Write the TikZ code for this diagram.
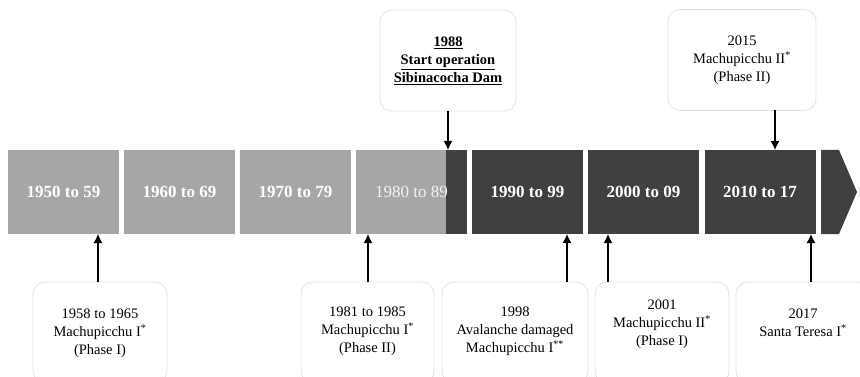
\documentclass[tikz,border=0pt]{standalone}
\usepackage{fontspec}
\setmainfont{Liberation Serif}
\usetikzlibrary{arrows.meta}
\definecolor{lightbar}{HTML}{A6A6A6}
\definecolor{darkbar}{HTML}{404040}
\definecolor{callborder}{HTML}{E2E2E2}
\definecolor{paletext}{HTML}{F2F2F2}
\begin{document}
\begin{tikzpicture}[x=1pt,y=-1pt,
  bar/.style={minimum width=111pt, minimum height=84pt, inner sep=0pt, outer sep=0pt,
    text=white, font=\fontsize{17}{19}\selectfont\bfseries},
  lightbar/.style={bar, fill=lightbar},
  darkbar/.style={bar, fill=darkbar},
  callout/.style={draw=callborder, fill=white, rounded corners=12pt, line width=0.8pt,
    minimum height=101pt, inner sep=0pt, outer sep=0pt},
  calltext/.style={align=center, font=\fontsize{14.5}{18}\selectfont, inner sep=0pt},
  conn/.style={-{Latex[length=9pt,width=9pt]}, line width=1.2pt, black}]
\path[use as bounding box] (0,0) rectangle (860,377);
\clip (0,0) rectangle (860,377);

% timeline bars
\node[lightbar] (b1) at (63.5,192) {1950 to 59};
\node[lightbar] (b2) at (179.5,192) {1960 to 69};
\node[lightbar] (b3) at (295.5,192) {1970 to 79};
\node[lightbar] (b4) at (411.5,192) {};
\fill[darkbar] (446,150) rectangle (b4.south east);
\node[bar, text=paletext, font=\fontsize{17}{19}\selectfont] (b4t) at (b4.center) {1980 to 89};
\node[darkbar] (b5) at (527.5,192) {1990 to 99};
\node[darkbar] (b6) at (643.5,192) {2000 to 09};
\node[darkbar] (b7) at (760,192) {2010 to 17};
\fill[darkbar] (821,150) -- (839,150) -- (857,192) -- (839,234) -- (821,234) -- cycle;

% top callouts
\node[callout, minimum width=136pt] (top1) at (448,60.5) {};
\node[calltext, font=\fontsize{14.5}{18}\selectfont\bfseries] (top1t) at (448,61)
  {\underline{1988}\\\underline{Start operation}\\\underline{Sibinacocha Dam}};
\node[callout, minimum width=148pt] (top2) at (742,60) {};
\node[calltext] (top2t) at (742,60) {2015\\Machupicchu II\textsuperscript{*}\\(Phase II)};

% bottom callouts
\node[callout, minimum width=134pt] (c1) at (100,332.5) {};
\node[calltext] (c1t) at (100,333) {1958 to 1965\\Machupicchu I\textsuperscript{*}\\(Phase I)};
\node[callout, minimum width=133pt] (c2) at (367.5,332.5) {};
\node[calltext] (c2t) at (367.5,331) {1981 to 1985\\Machupicchu I\textsuperscript{*}\\(Phase II)};
\node[callout, minimum width=146pt] (c3) at (515,332.5) {};
\node[calltext] (c3t) at (515,331) {1998\\Avalanche damaged\\Machupicchu I\textsuperscript{**}};
\node[callout, minimum width=134pt] (c4) at (662,332.5) {};
\node[calltext] (c4t) at (662,324) {2001\\Machupicchu II\textsuperscript{*}\\(Phase I)};
\node[callout, minimum width=134pt] (c5) at (803,332.5) {};
\node[calltext] (c5t) at (803,323) {2017\\Santa Teresa I\textsuperscript{*}};

% arrow targets on the bar
\coordinate (t1) at (448,150);
\coordinate (t2) at (775,150);
\coordinate (a1) at (98,234);
\coordinate (a2) at (368,234);
\coordinate (a3) at (567,234);
\coordinate (a4) at (608,234);
\coordinate (a5) at (811,234);

\draw[conn] (t1 |- top1.south) -- (t1);
\draw[conn] (t2 |- top2.south) -- (t2);
\draw[conn] (a1 |- c1.north) -- (a1);
\draw[conn] (a2 |- c2.north) -- (a2);
\draw[conn] (a3 |- c3.north) -- (a3);
\draw[conn] (a4 |- c4.north) -- (a4);
\draw[conn] (a5 |- c5.north) -- (a5);
\end{tikzpicture}
\end{document}
